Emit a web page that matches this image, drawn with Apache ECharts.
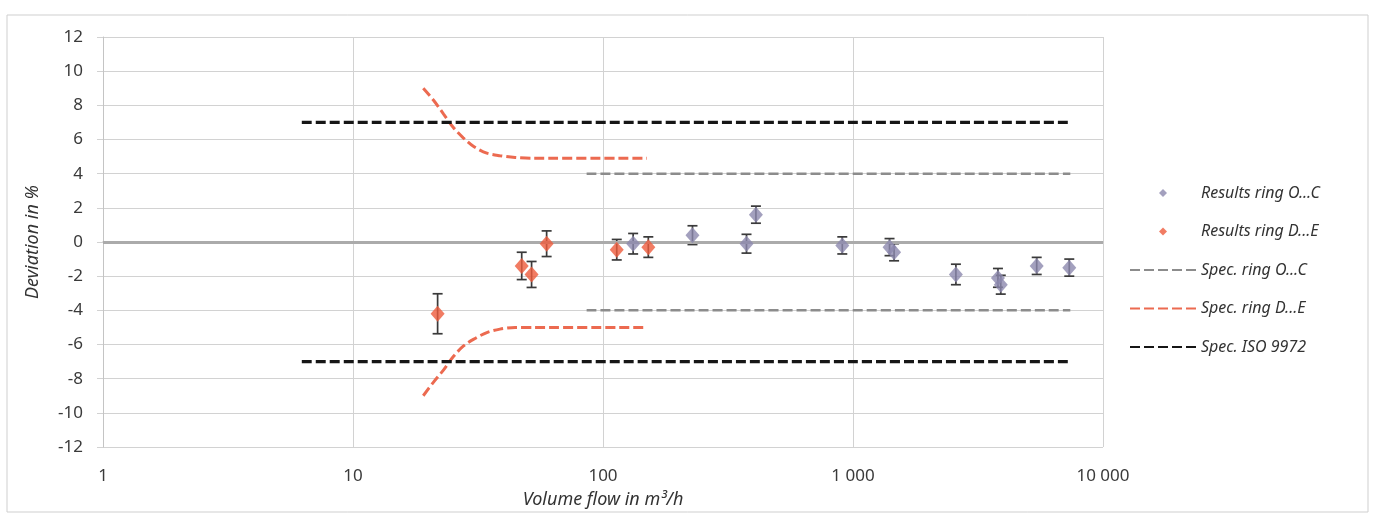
<!DOCTYPE html>
<html>
<head>
<meta charset="utf-8">
<script src="https://cdn.jsdelivr.net/npm/echarts@6/dist/echarts.min.js"></script>
<style>
  html, body { margin: 0; padding: 0; background: #fff; }
  #chart { width: 1373px; height: 516px; }
</style>
</head>
<body>
<div id="chart"></div>
<script>
// measured points, ring O...C (flow, deviation, error)
const flowOC = [132, 228, 375, 409, 906, 1400, 1460, 2580, 3800, 3900, 5430, 7330]
const devOC = [-0.1, 0.4, -0.1, 1.6, -0.2, -0.3, -0.6, -1.9, -2.1, -2.5, -1.4, -1.5]
const errOC = [0.6, 0.55, 0.55, 0.5, 0.5, 0.5, 0.5, 0.6, 0.55, 0.55, 0.5, 0.5]

// measured points, ring D...E
const flowDE = [21.8, 47.3, 51.8, 59.5, 113.5, 151.8]
const devDE = [-4.2, -1.4, -1.9, -0.1, -0.45, -0.3]
const errDE = [1.17, 0.8, 0.76, 0.75, 0.6, 0.6]

// spec limits
const specOCFlow = [86, 7400]
const specOCUpper = [4, 4]
const specOCLower = [-4, -4]

const specDEFlow = [19.1, 21, 23, 25.2, 27.6, 30.3, 34.3, 38.7, 44.5, 52.6, 150]
const specDEUpper = [9.0, 8.3, 7.5, 6.7, 6.1, 5.6, 5.2, 5.05, 4.95, 4.9, 4.9]
const specDELower = [-9.0, -8.2, -7.5, -6.7, -6.1, -5.7, -5.3, -5.1, -5.0, -5.0, -5.0]

const isoFlow = [6.24, 7380]
const isoUpper = [7, 7]
const isoLower = [-7, -7]

const xTicks = [1, 10, 100, 1000, 10000]

const chartDom = document.getElementById('chart')
const myChart = echarts.init(chartDom)

const zip = (xs, ys) => xs.map((x, i) => [x, ys[i]])
const zip3 = (xs, ys, es) => xs.map((x, i) => [x, ys[i], es[i]])

// vertical error bar with caps
const errorBar = (params, api) => {
  const x = api.value(0)
  const y = api.value(1)
  const e = api.value(2)
  const top = api.coord([x, y + e])
  const bot = api.coord([x, y - e])
  const hw = 5
  const style = { stroke: '#3a3a3a', lineWidth: 1.7 }
  return {
    type: 'group',
    children: [
      { type: 'line', shape: { x1: top[0], y1: top[1], x2: bot[0], y2: bot[1] }, style },
      { type: 'line', shape: { x1: top[0] - hw, y1: top[1], x2: top[0] + hw, y2: top[1] }, style },
      { type: 'line', shape: { x1: bot[0] - hw, y1: bot[1], x2: bot[0] + hw, y2: bot[1] }, style }
    ]
  }
}

const fmtThousands = (v) => String(v).replace(/\B(?=(\d{3})+(?!\d))/g, ' ')

const specLine = (name, xs, ys, color, width) => ({
  name: name,
  type: 'line',
  data: zip(xs, ys),
  symbol: 'none',
  showSymbol: false,
  smooth: 0.3,
  z: 3,
  silent: true,
  lineStyle: { color: color, width: width, type: [10, 4] },
  itemStyle: { color: color }
})

const diamondIcon = 'path://M5,0L10,5L5,10L0,5Z'
const legendLine = (name) => ({ name: name, itemStyle: { opacity: 0 } })

const option = {
  backgroundColor: '#fff',
  textStyle: { fontFamily: 'Noto Sans' },
  animation: false,
  graphic: [
    {
      type: 'rect',
      shape: { x: 7, y: 15, width: 1361, height: 497 },
      style: { fill: 'none', stroke: '#cfcfcf', lineWidth: 1 },
      silent: true
    }
  ],
  grid: {
    left: 103,
    right: 270,
    top: 37,
    bottom: 69
  },
  legend: {
    orient: 'vertical',
    left: 1124,
    top: 180,
    itemWidth: 66,
    itemHeight: 8,
    itemGap: 22.5,
    symbolKeepAspect: true,
    textStyle: {
      color: '#333',
      fontSize: 16,
      fontStyle: 'italic',
      lineHeight: 16
    },
    data: [
      { name: 'Results ring O...C', icon: diamondIcon },
      { name: 'Results ring D...E', icon: diamondIcon },
      legendLine('Spec. ring O...C'),
      legendLine('Spec. ring D...E'),
      legendLine('Spec. ISO 9972')
    ]
  },
  xAxis: {
    type: 'log',
    logBase: 10,
    min: xTicks[0],
    max: xTicks[xTicks.length - 1],
    name: 'Volume flow in m³/h',
    nameLocation: 'middle',
    nameGap: 44,
    nameTextStyle: { color: '#333', fontSize: 18, fontStyle: 'italic' },
    axisLine: { show: true, lineStyle: { color: '#c4c4c4', width: 1.5 } },
    axisTick: { show: false },
    axisLabel: {
      color: '#3a3a3a',
      fontSize: 17,
      margin: 21,
      formatter: fmtThousands
    },
    splitLine: { show: true, lineStyle: { color: '#d2d2d2', width: 1 } }
  },
  yAxis: {
    type: 'value',
    min: -12,
    max: 12,
    interval: 2,
    name: 'Deviation in %',
    nameLocation: 'middle',
    nameGap: 61,
    nameTextStyle: { color: '#333', fontSize: 18, fontStyle: 'italic' },
    axisLine: { show: true, lineStyle: { color: '#c4c4c4', width: 1 } },
    axisTick: { show: true, length: 6, lineStyle: { color: '#d2d2d2' } },
    axisLabel: { color: '#3a3a3a', fontSize: 17, margin: 20 },
    splitLine: { show: true, lineStyle: { color: '#d2d2d2', width: 1 } }
  },
  series: [
    {
      name: 'zero',
      type: 'line',
      data: [],
      silent: true,
      markLine: {
        silent: true,
        symbol: 'none',
        label: { show: false },
        lineStyle: { color: '#ababab', width: 3, type: 'solid' },
        data: [{ yAxis: 0 }]
      }
    },
    specLine('Spec. ring O...C', specOCFlow, specOCUpper, '#8c8c8c', 2.5),
    specLine('Spec. ring O...C', specOCFlow, specOCLower, '#8c8c8c', 2.5),
    specLine('Spec. ring D...E', specDEFlow, specDEUpper, '#ec6a50', 3),
    specLine('Spec. ring D...E', specDEFlow, specDELower, '#ec6a50', 3),
    specLine('Spec. ISO 9972', isoFlow, isoUpper, '#161616', 3.2),
    specLine('Spec. ISO 9972', isoFlow, isoLower, '#161616', 3.2),
    {
      name: 'errOC',
      type: 'custom',
      renderItem: errorBar,
      data: zip3(flowOC, devOC, errOC),
      z: 4,
      silent: true
    },
    {
      name: 'errDE',
      type: 'custom',
      renderItem: errorBar,
      data: zip3(flowDE, devDE, errDE),
      z: 4,
      silent: true
    },
    {
      name: 'Results ring O...C',
      type: 'scatter',
      symbol: 'diamond',
      symbolSize: [14, 16],
      data: zip(flowOC, devOC),
      z: 5,
      itemStyle: { color: '#8c88ae' }
    },
    {
      name: 'Results ring D...E',
      type: 'scatter',
      symbol: 'diamond',
      symbolSize: [14, 16],
      data: zip(flowDE, devDE),
      z: 5,
      itemStyle: { color: '#ee5b3c' }
    }
  ]
}
option && myChart.setOption(option)
</script>
</body>
</html>
